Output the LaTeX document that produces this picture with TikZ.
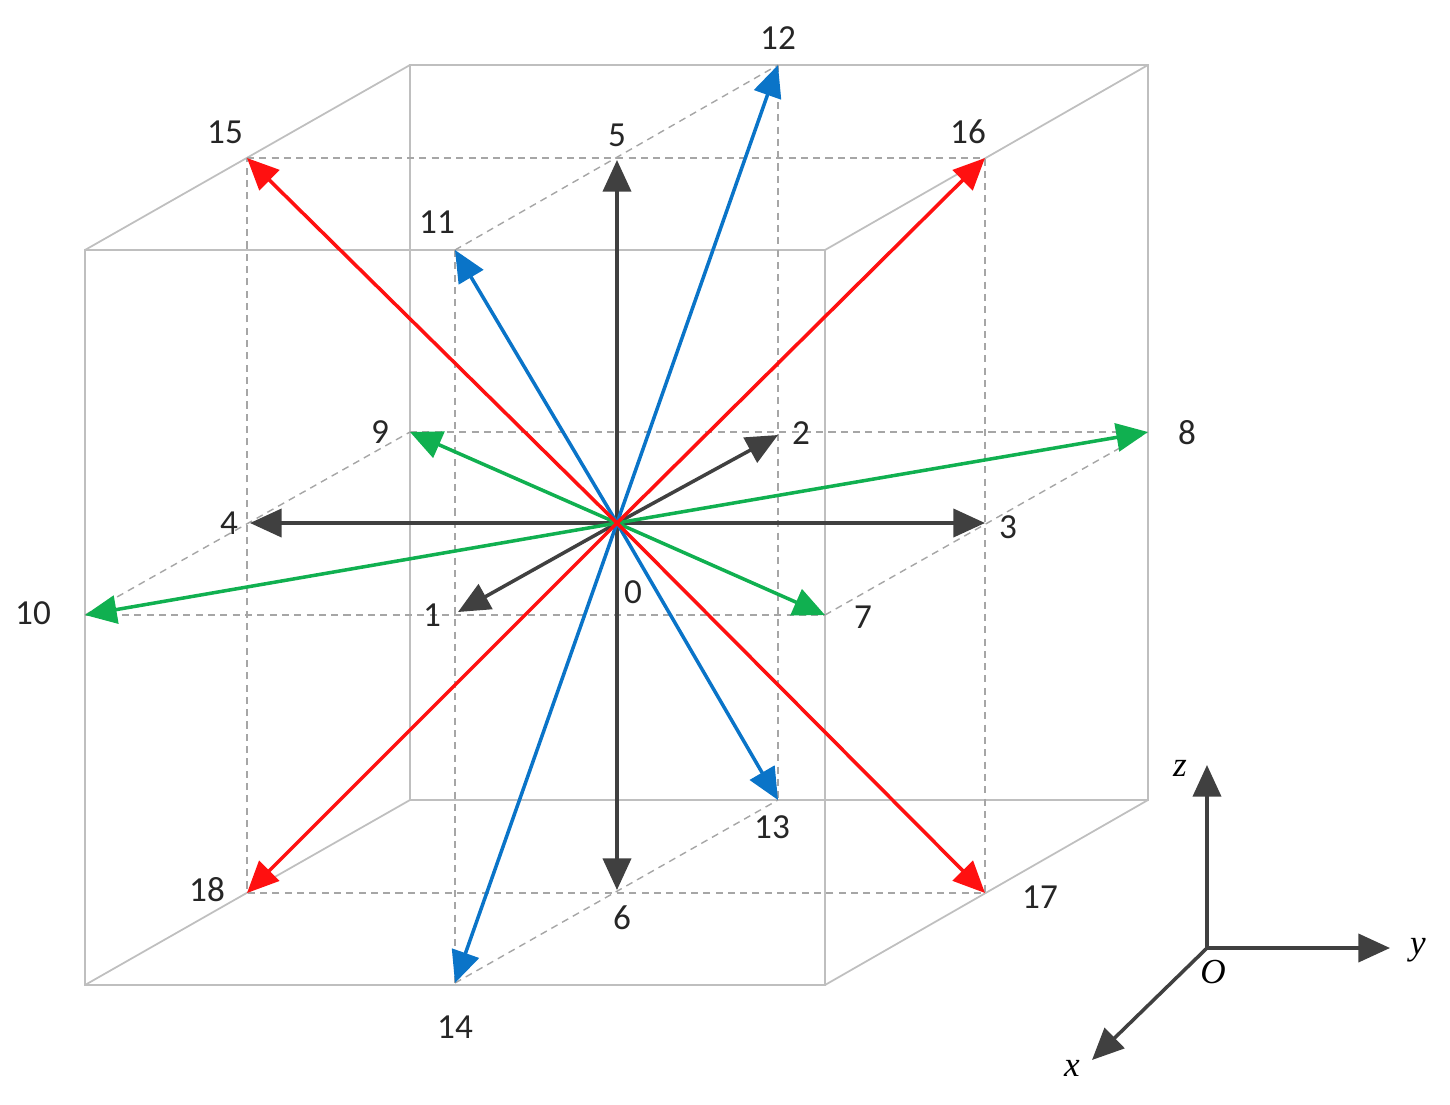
\documentclass[tikz,border=0pt]{standalone}
\usepackage{fontspec}
\setmainfont{Carlito}
\newfontfamily\axf{Liberation Serif}
\usetikzlibrary{arrows.meta}
\definecolor{cgray}{HTML}{404040}
\definecolor{cred}{HTML}{FF1010}
\definecolor{cblue}{HTML}{0A74C8}
\definecolor{cgreen}{HTML}{10B050}
\begin{document}
\begin{tikzpicture}[x=0.01cm,y=-0.01cm,
  edge/.style={draw=black!25,line width=0.5pt},
  guide/.style={draw=black!35,line width=0.4pt,dash pattern=on 2pt off 1.5pt},
  vec/.style={line width=1pt,-{Triangle[length=9pt,width=8pt]}},
  lab/.style={font=\fontsize{10}{12}\selectfont,text=black!85,inner sep=0pt},
  axl/.style={font=\axf\itshape\fontsize{10}{12}\selectfont,inner sep=0pt}]
\useasboundingbox (0,0) rectangle (1450,1105);
% cube
\coordinate (f1) at (85,250); \coordinate (f2) at (825,250);
\coordinate (f3) at (825,985); \coordinate (f4) at (85,985);
\coordinate (b1) at (410,65); \coordinate (b2) at (1148,65);
\coordinate (b3) at (1148,800); \coordinate (b4) at (410,800);
\draw[edge] (f1)--(f2)--(f3)--(f4)--cycle;
\draw[edge] (b1)--(b2)--(b3)--(b4)--cycle;
\draw[edge] (f1)--(b1) (f2)--(b2) (f3)--(b3) (f4)--(b4);
% points
\coordinate (o) at (617,523);
\coordinate (p1) at (458,612); \coordinate (p2) at (778,435);
\coordinate (p3) at (985,523); \coordinate (p4) at (250,523);
\coordinate (p5) at (617,160); \coordinate (p6) at (617,890);
\coordinate (p7) at (825,615); \coordinate (p8) at (1148,432);
\coordinate (p9) at (410,432); \coordinate (p10) at (85,615);
\coordinate (p11) at (455,250); \coordinate (p12) at (778,65);
\coordinate (p13) at (778,800); \coordinate (p14) at (455,983);
\coordinate (p15) at (247,158); \coordinate (p16) at (985,158);
\coordinate (p17) at (985,893); \coordinate (p18) at (247,893);
% dashed guides
\draw[guide] (p15)--(p16)--(p17)--(p18)--cycle;
\draw[guide] (p9)--(p8) (p10)--(p7);
\draw[guide] (p11)--(p14) (p12)--(p13);
\draw[guide] (p11)--(p12) (p14)--(p13) (p10)--(p9) (p7)--(p8);
% vectors
\foreach \p in {p1,p2,p3,p4,p5,p6} \draw[vec,cgray] (o)--(\p);
\foreach \p in {p7,p8,p9,p10} \draw[vec,cgreen] (o)--(\p);
\foreach \p in {p11,p12,p13,p14} \draw[vec,cblue] (o)--(\p);
\foreach \p in {p15,p16,p17,p18} \draw[vec,cred] (o)--(\p);
% labels
\node[lab] (l0) at (633,592) {0};
\node[lab] (l1) at (432,615) {1};
\node[lab] (l2) at (801,433) {2};
\node[lab] (l3) at (1008,527) {3};
\node[lab] (l4) at (229,523) {4};
\node[lab] (l5) at (617,135) {5};
\node[lab] (l6) at (622,918) {6};
\node[lab] (l7) at (863,617) {7};
\node[lab] (l8) at (1187,433) {8};
\node[lab] (l9) at (380,432) {9};
\node[lab] (l10) at (33,613) {10};
\node[lab] (l11) at (437,222) {11};
\node[lab] (l12) at (778,38) {12};
\node[lab] (l13) at (772,827) {13};
\node[lab] (l14) at (455,1027) {14};
\node[lab] (l15) at (225,132) {15};
\node[lab] (l16) at (968,132) {16};
\node[lab] (l17) at (1040,897) {17};
\node[lab] (l18) at (207,890) {18};
% axes
\coordinate (O) at (1207,948);
\coordinate (az) at (1207,765); \coordinate (ay) at (1390,948); \coordinate (ax) at (1092,1060);
\draw[vec,cgray] (O)--(az);
\draw[vec,cgray] (O)--(ay);
\draw[vec,cgray] (O)--(ax);
\node[axl] (lz) at (1180,768) {z};
\node[axl] (ly) at (1418,950) {y};
\node[axl] (lx) at (1072,1068) {x};
\node[axl] (lO) at (1213,972) {O};
\end{tikzpicture}
\end{document}
